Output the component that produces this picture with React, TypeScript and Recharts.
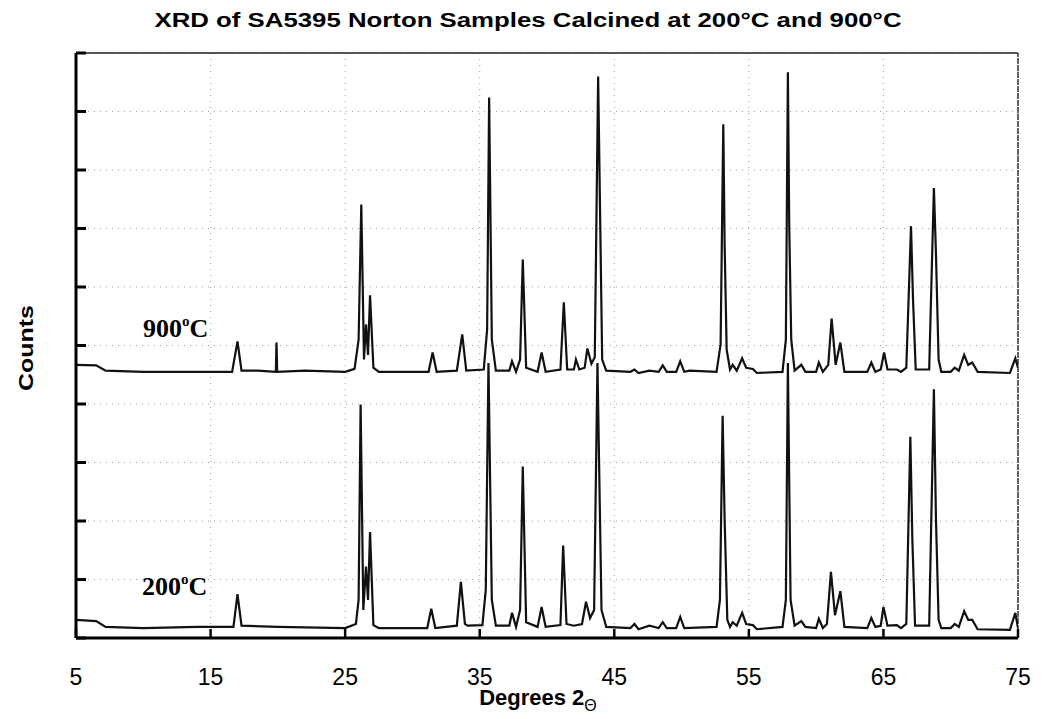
import React from "react";
import { LineChart, Line, XAxis, YAxis, CartesianGrid, ReferenceLine } from "recharts";

// ---- Data (2-theta in degrees, counts in arbitrary units, 900°C trace offset upward) ----
const xTicks = [5, 15, 25, 35, 45, 55, 65, 75];
const yTicks = [0, 100, 200, 300, 400, 500, 600, 700, 800, 900, 1000];

const x900 = [5, 6.5, 7.2, 10, 14, 16.6, 17.0, 17.3, 18.5, 19.85, 19.9, 19.95, 22, 25, 25.7, 26.0, 26.2, 26.4, 26.55, 26.7, 26.85, 27.1, 27.5, 31.2, 31.5, 31.8, 33.3, 33.7, 34.0, 35.3, 35.55, 35.7, 35.9, 36.2, 37.2, 37.4, 37.7, 38.0, 38.2, 38.45, 39.3, 39.6, 39.9, 41.0, 41.25, 41.5, 42.0, 42.15, 42.4, 42.8, 43.0, 43.3, 43.55, 43.8, 44.1, 44.4, 46.2, 46.5, 46.8, 47.6, 48.3, 48.6, 48.9, 49.6, 49.9, 50.2, 50.6, 52.6, 52.9, 53.1, 53.2, 53.35, 53.6, 53.8, 54.1, 54.5, 54.8, 55.3, 55.6, 57.5, 57.75, 57.9, 58.0, 58.15, 58.4, 58.9, 59.2, 60.0, 60.2, 60.5, 60.9, 61.15, 61.45, 61.8, 62.1, 63.8, 64.1, 64.4, 64.8, 65.05, 65.3, 66.0, 66.3, 66.7, 67.05, 67.2, 67.4, 68.4, 68.75, 68.9, 69.1, 69.3, 70.0, 70.3, 70.6, 71.0, 71.3, 71.6, 72.0, 74.4, 74.8, 75];
const y900 = [467, 466, 457, 455, 455, 455, 507, 457, 457, 455, 505, 455, 457, 455, 460, 510, 741, 476, 536, 484, 586, 462, 455, 455, 488, 455, 457, 519, 457, 459, 527, 924, 510, 457, 457, 473, 455, 476, 647, 462, 455, 488, 455, 459, 574, 459, 459, 476, 459, 462, 495, 469, 480, 960, 476, 457, 455, 459, 453, 457, 455, 466, 455, 455, 473, 455, 457, 455, 502, 878, 673, 493, 459, 467, 457, 478, 462, 460, 453, 455, 510, 967, 704, 510, 457, 467, 455, 455, 471, 455, 467, 546, 467, 505, 455, 455, 471, 455, 459, 488, 459, 459, 455, 462, 704, 578, 459, 459, 769, 660, 476, 455, 455, 462, 457, 484, 467, 471, 455, 453, 478, 462];

const x200 = [5, 6.5, 7.2, 10, 14, 16.7, 17.0, 17.3, 20, 25.0, 25.8, 26.0, 26.15, 26.35, 26.55, 26.7, 26.85, 27.1, 27.5, 31.1, 31.4, 31.7, 33.3, 33.6, 33.9, 34.1, 35.2, 35.45, 35.65, 35.9, 36.2, 37.2, 37.4, 37.7, 38.0, 38.2, 38.45, 39.3, 39.6, 39.9, 41.0, 41.2, 41.45, 42.0, 42.6, 42.9, 43.2, 43.5, 43.75, 44.05, 44.4, 46.2, 46.5, 46.8, 47.6, 48.3, 48.6, 48.9, 49.6, 49.9, 50.2, 52.6, 52.85, 53.05, 53.2, 53.4, 53.6, 53.8, 54.1, 54.5, 54.8, 55.3, 55.6, 57.5, 57.75, 57.9, 58.1, 58.4, 58.9, 59.2, 60.0, 60.2, 60.5, 60.8, 61.1, 61.4, 61.8, 62.1, 63.8, 64.1, 64.4, 64.8, 65.0, 65.3, 66.0, 66.3, 66.7, 67.0, 67.15, 67.35, 68.4, 68.75, 68.9, 69.1, 69.3, 70.0, 70.3, 70.6, 71.0, 71.3, 71.6, 72.0, 74.4, 74.8, 75];
const y200 = [31, 29, 19, 17, 19, 19, 75, 21, 19, 17, 24, 65, 399, 48, 122, 65, 181, 22, 17, 17, 50, 17, 21, 96, 24, 21, 22, 82, 470, 65, 21, 21, 43, 19, 48, 293, 27, 19, 53, 19, 22, 158, 24, 21, 24, 62, 34, 48, 470, 48, 19, 17, 24, 15, 21, 17, 27, 17, 17, 36, 17, 19, 65, 380, 202, 31, 19, 27, 21, 43, 24, 22, 15, 19, 65, 470, 65, 21, 29, 19, 17, 33, 17, 24, 113, 39, 80, 19, 17, 34, 19, 21, 53, 21, 22, 17, 24, 344, 168, 21, 21, 425, 207, 31, 17, 17, 24, 19, 46, 31, 31, 15, 14, 43, 17];

const title = "XRD of SA5395 Norton Samples Calcined at 200°C and 900°C";
const xLabel = "Degrees 2";
const xLabelSub = "Θ";
const yLabel = "Counts";
const label900 = "900";
const label200 = "200";

const data900 = x900.map((x, i) => ({ x, y: y900[i] }));
const data200 = x200.map((x, i) => ({ x, y: y200[i] }));

const W = 1026;
const H = 711;
const XAX_H = 30;
const YAX_W = 10;
const M = { top: 45, right: 16, bottom: 81 - XAX_H, left: 68 - YAX_W };
const sans = "'Liberation Sans', Arial, Helvetica, sans-serif";
const serif = "'Liberation Serif', 'Times New Roman', serif";

const XTick = (props: any) => {
  const { x, y, payload } = props;
  return (
    <g>
      <line x1={x} y1={y} x2={x} y2={y - 9} stroke="#000" strokeWidth={2.5} />
      <text x={x} y={y + 47} textAnchor="middle" fontFamily={sans} fontSize={23} fill="#000">
        {payload.value}
      </text>
    </g>
  );
};

const YTick = (props: any) => {
  const { x, y } = props;
  return <line x1={x} y1={y} x2={x + 10} y2={y} stroke="#000" strokeWidth={3} />;
};

const TempLabel = ({ x, y, t }: { x: number; y: number; t: string }) => (
  <text x={x} y={y} fontFamily={serif} fontWeight="bold" fontSize={26} fill="#000">
    {t}
    <tspan dy={-11} fontSize={15}>o</tspan>
    <tspan dy={11}>C</tspan>
  </text>
);

export default function App() {
  return (
    <div style={{ position: "relative", width: W, height: H, background: "#fff" }}>
      <LineChart width={W} height={H} margin={M}>
        <CartesianGrid stroke="#a0a0a0" strokeDasharray="1 5" strokeWidth={1} />
        <XAxis
          type="number"
          dataKey="x"
          domain={[5, 75]}
          ticks={xTicks}
          height={XAX_H}
          tickSize={0}
          tickMargin={0}
          tickLine={false}
          tick={XTick}
          axisLine={{ stroke: "#000", strokeWidth: 3 }}
          allowDataOverflow
          interval={0}
        />
        <YAxis
          type="number"
          domain={[0, 1000]}
          ticks={yTicks}
          width={YAX_W}
          tickSize={0}
          tickMargin={0}
          tickLine={false}
          tick={YTick}
          axisLine={{ stroke: "#000", strokeWidth: 3 }}
          allowDataOverflow
          interval={0}
        />
        <ReferenceLine y={1000} stroke="#222" strokeWidth={1.5} />
        <ReferenceLine x={75} stroke="#333" strokeWidth={1.5} strokeDasharray="6 1" />
        <Line
          data={data200}
          dataKey="y"
          type="linear"
          stroke="#111"
          strokeWidth={2.2}
          dot={false}
          isAnimationActive={false}
        />
        <Line
          data={data900}
          dataKey="y"
          type="linear"
          stroke="#111"
          strokeWidth={2.2}
          dot={false}
          isAnimationActive={false}
        />
      </LineChart>
      <svg
        width={W}
        height={H}
        style={{ position: "absolute", left: 0, top: 0, pointerEvents: "none" }}
      >
        <text
          x={520}
          y={19}
          textAnchor="middle"
          fontFamily={sans}
          fontWeight="bold"
          fontSize={20}
          fill="#000"
          textLength={747}
          lengthAdjust="spacingAndGlyphs"
        >
          {title}
        </text>
        <text
          x={25}
          y={340}
          textAnchor="middle"
          fontFamily={sans}
          fontWeight="bold"
          fontSize={20}
          fill="#000"
          transform="rotate(-90 25 340)"
          textLength={86}
          lengthAdjust="spacingAndGlyphs"
        >
          {yLabel}
        </text>
        <text x={530} y={697} textAnchor="middle" fontFamily={sans} fontWeight="bold" fontSize={22} fill="#000">
          {xLabel}
          <tspan dy={6} fontSize={16} fontWeight="normal">{xLabelSub}</tspan>
        </text>
        <TempLabel x={135} y={329} t={label900} />
        <TempLabel x={134} y={587} t={label200} />
      </svg>
    </div>
  );
}
